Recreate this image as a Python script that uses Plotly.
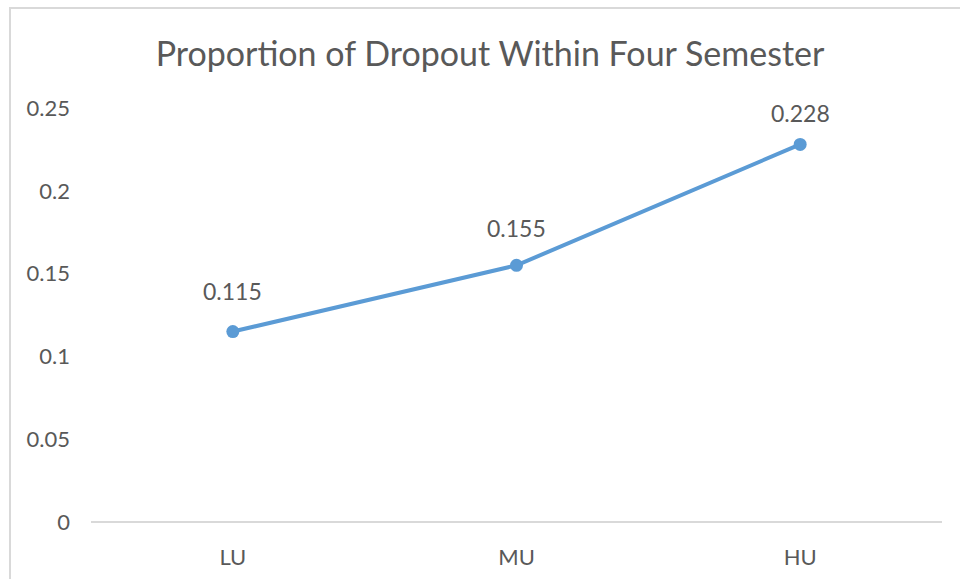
import plotly.graph_objects as go

# Dropout proportion by group
categories = ["LU", "MU", "HU"]
dropout = [0.115, 0.155, 0.228]
y_ticks = [0, 0.05, 0.1, 0.15, 0.2, 0.25]
y_tick_labels = ["0", "0.05", "0.1", "0.15", "0.2", "0.25"]

# vertical offset (px) of each value label above its marker
label_shift = [41, 37, 31]

FONT = "Lato, 'Open Sans', sans-serif"
LINE_BLUE = "#5B9BD5"
TEXT_GREY = "#595959"

W, H = 960, 579
L, R, T, B = 91, 18, 108, 57
plot_w = W - L - R
plot_h = H - T - B

fig = go.Figure()
fig.add_trace(go.Scatter(
    x=categories,
    y=dropout,
    mode="lines+markers",
    line=dict(color=LINE_BLUE, width=4),
    marker=dict(color=LINE_BLUE, size=13),
    hoverinfo="skip",
    showlegend=False,
))

for cat, val, dy in zip(categories, dropout, label_shift):
    fig.add_annotation(
        x=cat, y=val, text=f"{val:g}", showarrow=False,
        yshift=dy, font=dict(family=FONT, size=23, color=TEXT_GREY),
    )

# chart frame (left and top edges visible)
fig.add_shape(
    type="rect", xref="paper", yref="paper", layer="below",
    x0=(10 - L) / plot_w, x1=(W + 20 - L) / plot_w,
    y0=(T + plot_h - (H + 20)) / plot_h, y1=(T + plot_h - 8) / plot_h,
    line=dict(color="#D9D9D9", width=2), fillcolor="rgba(0,0,0,0)",
)

fig.update_layout(
    width=W, height=H,
    margin=dict(l=L, r=R, t=T, b=B, autoexpand=False),
    paper_bgcolor="white", plot_bgcolor="white",
    title=dict(
        text="Proportion of Dropout Within Four Semester",
        x=490 / W, xref="container", xanchor="center",
        y=1 - 54 / H, yref="container", yanchor="middle",
        font=dict(family=FONT, size=34, color=TEXT_GREY),
    ),
    xaxis=dict(
        type="category", range=[-0.5, 2.5], automargin=False,
        showgrid=False, showline=False, zeroline=False,
        ticks="", ticklabelstandoff=20,
        tickfont=dict(family=FONT, size=22, color=TEXT_GREY),
        fixedrange=True,
    ),
    yaxis=dict(
        range=[0, 0.25], tickvals=y_ticks, ticktext=y_tick_labels,
        automargin=False,
        showgrid=False, showline=False,
        zeroline=True, zerolinecolor="#D9D9D9", zerolinewidth=2,
        ticks="", ticklabelstandoff=20,
        tickfont=dict(family=FONT, size=22, color=TEXT_GREY),
        fixedrange=True,
    ),
)

fig.write_html("out.html")
